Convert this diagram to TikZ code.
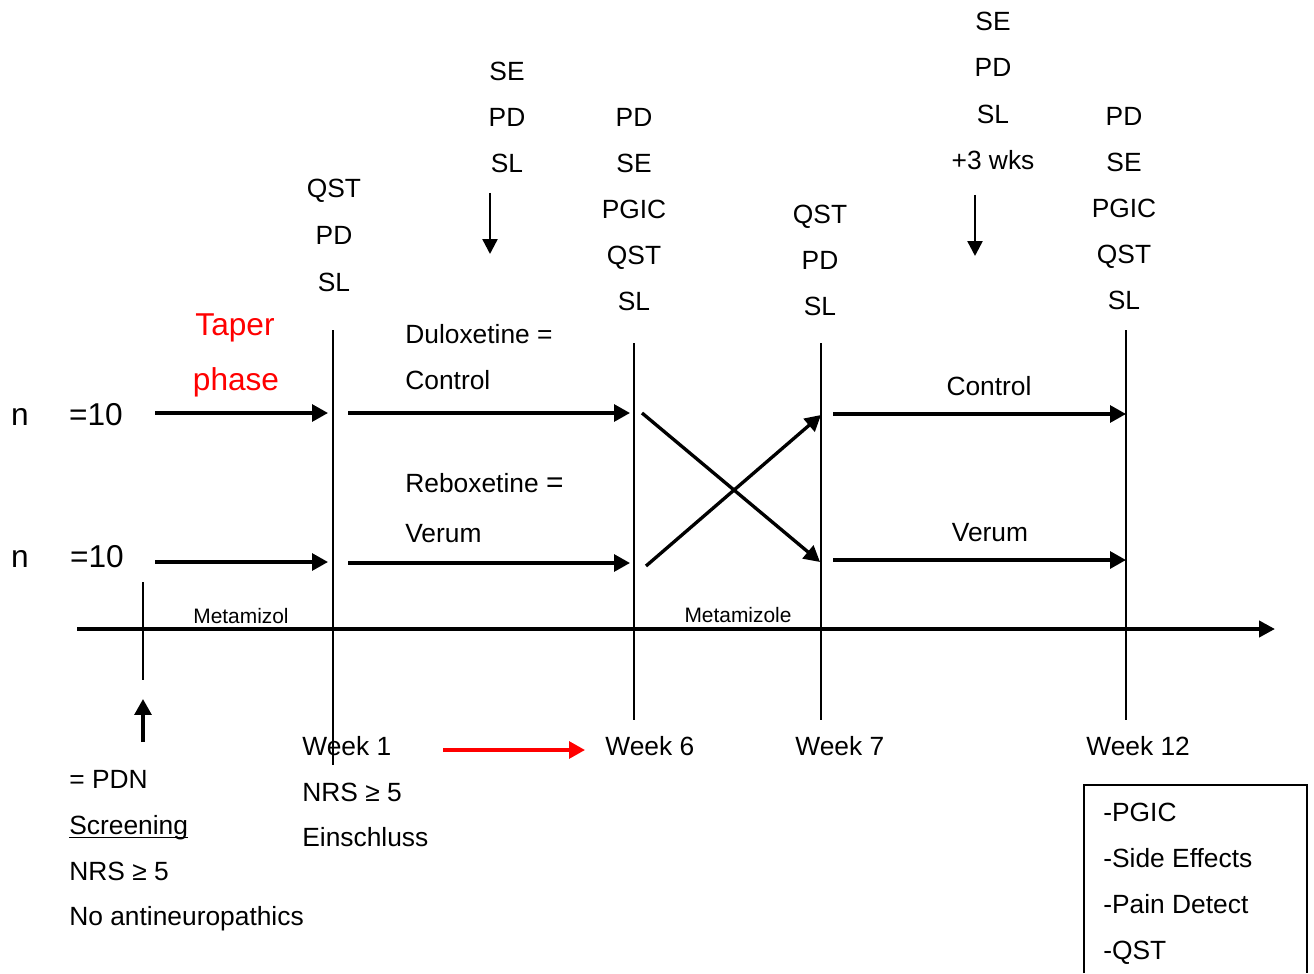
\documentclass[tikz,border=0pt]{standalone}
\usepackage{fontspec}
\setmainfont{Liberation Sans}
\usetikzlibrary{arrows.meta}

\tikzset{
  txt/.style={font=\fontsize{15}{18}\selectfont,inner sep=0pt,text height=10.8pt,text depth=0pt},
  bigtxt/.style={font=\fontsize{18}{22}\selectfont,inner sep=0pt,text height=13pt,text depth=0pt},
  smalltxt/.style={font=\fontsize{11.9}{14}\selectfont,inner sep=0pt,text height=8.6pt,text depth=0pt},
  redtxt/.style={bigtxt,text=red},
  axis/.style={line width=2.3pt,-{Triangle[length=9pt,width=9pt]}},
  visit/.style={line width=1pt},
  flow/.style={line width=1.9pt,-{Triangle[length=9pt,width=9.5pt]}},
  hint/.style={line width=1.4pt,-{Triangle[length=8.5pt,width=8.5pt]}},
}

\begin{document}
\begin{tikzpicture}[x=0.02cm,y=-0.02cm]
\useasboundingbox (0,0) rectangle (1314,973);
% time axis
\coordinate (ax0) at (77,629);
\coordinate (ax1) at (1275,629);
\draw[axis] (ax0) -- (ax1);
\node[smalltxt] (meta1) at (241,616) {Metamizol};
\node[smalltxt] (meta2) at (738,615) {Metamizole};
% visit lines
\foreach \nm/\x/\ya/\yb in {scr/143/582/680,w1/333/330/765,w6/634/343/720,w7/821/343/720,w12/1126/330/720}{
  \coordinate (\nm t) at (\x,\ya);
  \coordinate (\nm b) at (\x,\yb);
  \draw[visit] (\nm t) -- (\nm b);
}
% groups
\node[bigtxt] (n1) at (20,414) {n};
\node[bigtxt] (g1) at (96,414) {=10};
\node[bigtxt] (n2) at (20,556) {n};
\node[bigtxt] (g2) at (97,556) {=10};
\node[redtxt] (taper) at (235,324) {Taper};
\node[redtxt] (phase) at (236,379) {phase};
% arms, first period
\coordinate (a1) at (155,413); \coordinate (a2) at (328,413);
\coordinate (a3) at (348,413); \coordinate (a4) at (630,413);
\coordinate (b1) at (155,562); \coordinate (b2) at (328,562);
\coordinate (b3) at (348,563); \coordinate (b4) at (630,563);
\draw[flow] (a1) -- (a2);
\draw[flow] (a3) -- (a4);
\draw[flow] (b1) -- (b2);
\draw[flow] (b3) -- (b4);
\node[txt,anchor=west] (dulo) at (405,334) {Duloxetine =};
\node[txt,anchor=west] (ctl1) at (405,380) {Control};
\node[txt,anchor=west] (rebo) at (405,483) {Reboxetine {\fontsize{17}{18}\selectfont=}};
\node[txt,anchor=west] (ver1) at (405,533) {Verum};
% cross-over
\coordinate (x1) at (642,413); \coordinate (x2) at (820,562);
\coordinate (x3) at (646,566); \coordinate (x4) at (821,415);
\draw[flow] (x1) -- (x2);
\draw[flow] (x3) -- (x4);
% arms, second period
\coordinate (c1) at (833,414); \coordinate (c2) at (1126,414);
\coordinate (d1) at (833,560); \coordinate (d2) at (1126,560);
\draw[flow] (c1) -- (c2);
\draw[flow] (d1) -- (d2);
\node[txt] (ctl2) at (989,386) {Control};
\node[txt] (ver2) at (990,532) {Verum};
% assessments
\foreach \t [count=\i] in {QST,PD,SL}
  \node[txt] (va\i) at (334,{188+(\i-1)*47}) {\t};
\foreach \t [count=\i] in {SE,PD,SL}
  \node[txt] (vb\i) at (507,{71+(\i-1)*46}) {\t};
\foreach \t [count=\i] in {PD,SE,PGIC,QST,SL}
  \node[txt] (vc\i) at (634,{117+(\i-1)*46}) {\t};
\foreach \t [count=\i] in {QST,PD,SL}
  \node[txt] (vd\i) at (820,{214+(\i-1)*46}) {\t};
\foreach \t [count=\i] in {SE,PD,SL,+3 wks}
  \node[txt] (ve\i) at (993,{21+(\i-1)*46.3}) {\t};
\foreach \t [count=\i] in {PD,SE,PGIC,QST,SL}
  \node[txt] (vf\i) at (1124,{116+(\i-1)*46}) {\t};
\coordinate (h1) at (490,193); \coordinate (h2) at (490,254);
\coordinate (h3) at (975,195); \coordinate (h4) at (975,256);
\draw[hint] (h1) -- (h2);
\draw[hint] (h3) -- (h4);
% screening
\coordinate (s1) at (143,742); \coordinate (s2) at (143,699);
\draw[flow] (s1) -- (s2);
\node[txt,anchor=west] (pdn) at (69,779) {= PDN};
\node[txt,anchor=west] (scr) at (69,825) {Screening};
\draw[line width=.8pt] ([yshift=-1.4pt]scr.south west) -- ([yshift=-1.4pt]scr.south east);
\node[txt,anchor=west] (nrs0) at (69,871) {NRS ≥ 5};
\node[txt,anchor=west] (noan) at (69,916) {No antineuropathics};
% weeks
\node[txt,anchor=west] (wk1) at (302,746) {Week 1};
\node[txt,anchor=west] (nrs1) at (302,792) {NRS ≥ 5};
\node[txt,anchor=west] (ein) at (302,837) {Einschluss};
\coordinate (r1) at (443,750); \coordinate (r2) at (585,750);
\draw[flow,red] (r1) -- (r2);
\node[txt,anchor=west] (wk6) at (605,746) {Week 6};
\node[txt,anchor=west] (wk7) at (795,746) {Week 7};
\node[txt,anchor=west] (wk12) at (1086,746) {Week 12};
% outcome box
\draw[visit] (1084,973) -- (1084,785) -- (1307,785) -- (1307,973);
\node[txt,anchor=west] (o1) at (1103,812) {-PGIC};
\node[txt,anchor=west] (o2) at (1103,858) {-Side Effects};
\node[txt,anchor=west] (o3) at (1103,904) {-Pain Detect};
\node[txt,anchor=west] (o4) at (1103,950) {-QST};
\end{tikzpicture}
\end{document}
